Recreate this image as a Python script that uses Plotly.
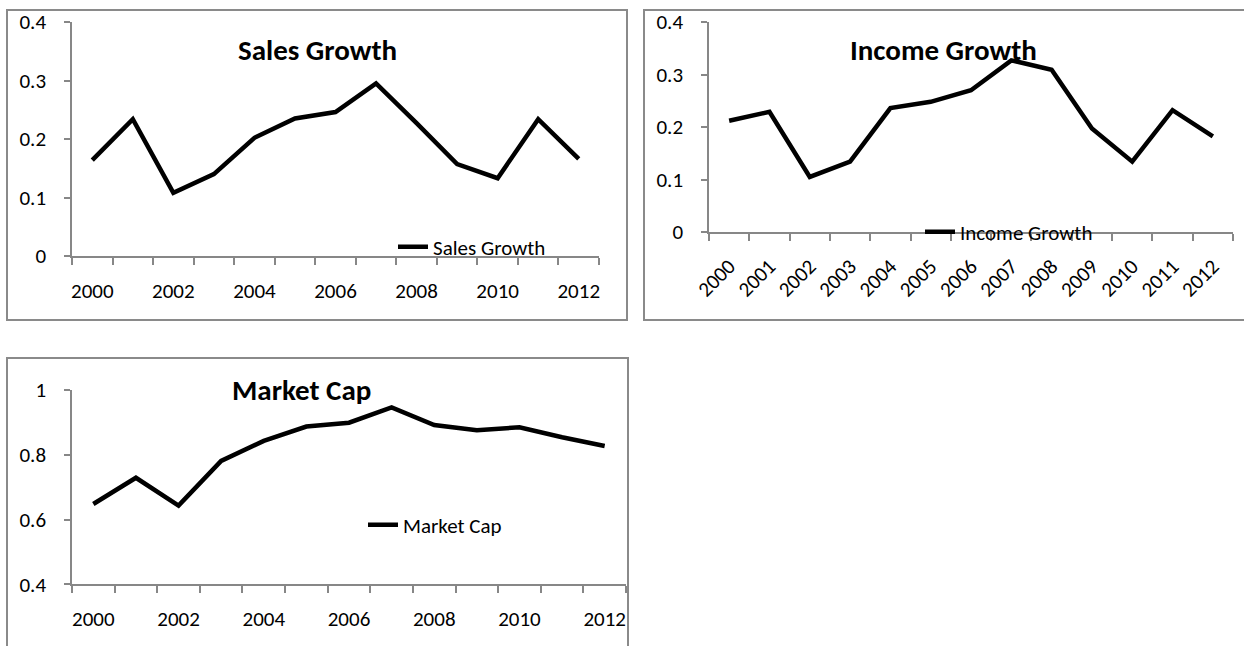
import plotly.graph_objects as go

W, H = 1244, 646

years = list(range(2000, 2013))
sales_growth = [0.164, 0.234, 0.108, 0.140, 0.202, 0.235, 0.246, 0.295, 0.227, 0.157, 0.133, 0.234, 0.166]
income_growth = [0.212, 0.229, 0.105, 0.134, 0.236, 0.248, 0.270, 0.327, 0.309, 0.197, 0.134, 0.232, 0.182]
market_cap = [0.648, 0.729, 0.643, 0.781, 0.843, 0.887, 0.899, 0.946, 0.892, 0.876, 0.885, 0.854, 0.827]

even_years = [y for y in years if y % 2 == 0]
sales_yticks = [0, 0.1, 0.2, 0.3, 0.4]
income_yticks = [0, 0.1, 0.2, 0.3, 0.4]
mcap_yticks = [0.4, 0.6, 0.8, 1.0]

FONT = "Carlito, Lato, sans-serif"
GRAY = "#8a8a8a"
AXIS = "#878787"


def px_x(a, b):
    return [a / W, b / W]


def px_y(top, bottom):
    return [1 - bottom / H, 1 - top / H]


fig = go.Figure()

fig.add_trace(go.Scatter(x=years, y=sales_growth, mode="lines", name="Sales Growth",
                         line=dict(color="black", width=4.5), xaxis="x", yaxis="y",
                         legend="legend"))
fig.add_trace(go.Scatter(x=years, y=income_growth, mode="lines", name="Income Growth",
                         line=dict(color="black", width=4.5), xaxis="x2", yaxis="y2",
                         legend="legend2"))
fig.add_trace(go.Scatter(x=years, y=market_cap, mode="lines", name="Market Cap",
                         line=dict(color="black", width=4.5), xaxis="x3", yaxis="y3",
                         legend="legend3"))


def xaxis(domain, anchor, tickvals, angle=0):
    return dict(
        domain=domain, anchor=anchor, range=[1999.5, 2012.5], automargin=False,
        tickmode="array", tickvals=tickvals, ticktext=[str(v) for v in tickvals],
        ticks="", showline=True, linecolor=AXIS, linewidth=1.5,
        showgrid=False, zeroline=False, tickangle=angle,
        ticklabelstandoff=15 if angle == 0 else 12,
        tickfont=dict(family=FONT, size=21, color="black"),
        minor=dict(tick0=1999.5, dtick=1, ticks="outside", ticklen=7,
                   tickcolor=AXIS, tickwidth=1.5, showgrid=False),
    )


def yaxis(domain, anchor, rng, tickvals):
    return dict(
        domain=domain, anchor=anchor, range=rng, automargin=False,
        tickmode="array", tickvals=tickvals,
        ticktext=[("%g" % v) for v in tickvals],
        ticks="outside", ticklen=6, tickcolor=AXIS, tickwidth=1.5,
        showline=True, linecolor=AXIS, linewidth=1.5,
        showgrid=False, zeroline=False, ticklabelstandoff=14,
        tickfont=dict(family=FONT, size=21, color="black"),
    )


def legend(x, y):
    return dict(x=x / W, y=1 - y / H, xanchor="left", yanchor="middle",
                bgcolor="rgba(0,0,0,0)", borderwidth=0,
                font=dict(family=FONT, size=21, color="black"))


fig.update_layout(
    template="none",
    width=W, height=H,
    margin=dict(l=0, r=0, t=0, b=0, autoexpand=False),
    paper_bgcolor="white", plot_bgcolor="white",
    showlegend=True,
    xaxis=xaxis(px_x(72, 599), "y", even_years),
    yaxis=yaxis(px_y(22, 256), "x", [0, 0.4], sales_yticks),
    xaxis2=xaxis(px_x(709, 1233), "y2", years, angle=-45),
    yaxis2=yaxis(px_y(22, 232), "x2", [0, 0.4], income_yticks),
    xaxis3=xaxis(px_x(72, 626), "y3", even_years),
    yaxis3=yaxis(px_y(390, 584.3), "x3", [0.4, 1.0], mcap_yticks),
    legend=legend(393, 247),
    legend2=legend(920, 232),
    legend3=legend(363, 525),
    shapes=[
        dict(type="rect", xref="paper", yref="paper",
             x0=7 / W, x1=627 / W, y0=1 - 320 / H, y1=1 - 10 / H,
             line=dict(color=GRAY, width=2), layer="below"),
        dict(type="rect", xref="paper", yref="paper",
             x0=644 / W, x1=1250 / W, y0=1 - 320 / H, y1=1 - 10 / H,
             line=dict(color=GRAY, width=2), layer="below"),
        dict(type="rect", xref="paper", yref="paper",
             x0=7 / W, x1=628 / W, y0=-0.05, y1=1 - 358 / H,
             line=dict(color=GRAY, width=2), layer="below"),
    ],
    annotations=[
        dict(text="<b>Sales Growth</b>", x=317 / W, y=1 - 50 / H, xref="paper", yref="paper",
             xanchor="center", yanchor="middle",
             showarrow=False, font=dict(family=FONT, size=29, color="black")),
        dict(text="<b>Income Growth</b>", x=943 / W, y=1 - 50 / H, xref="paper", yref="paper",
             xanchor="center", yanchor="middle",
             showarrow=False, font=dict(family=FONT, size=29, color="black")),
        dict(text="<b>Market Cap</b>", x=301 / W, y=1 - 390 / H, xref="paper", yref="paper",
             xanchor="center", yanchor="middle",
             showarrow=False, font=dict(family=FONT, size=29, color="black")),
    ],
)

fig.write_html("out.html")
